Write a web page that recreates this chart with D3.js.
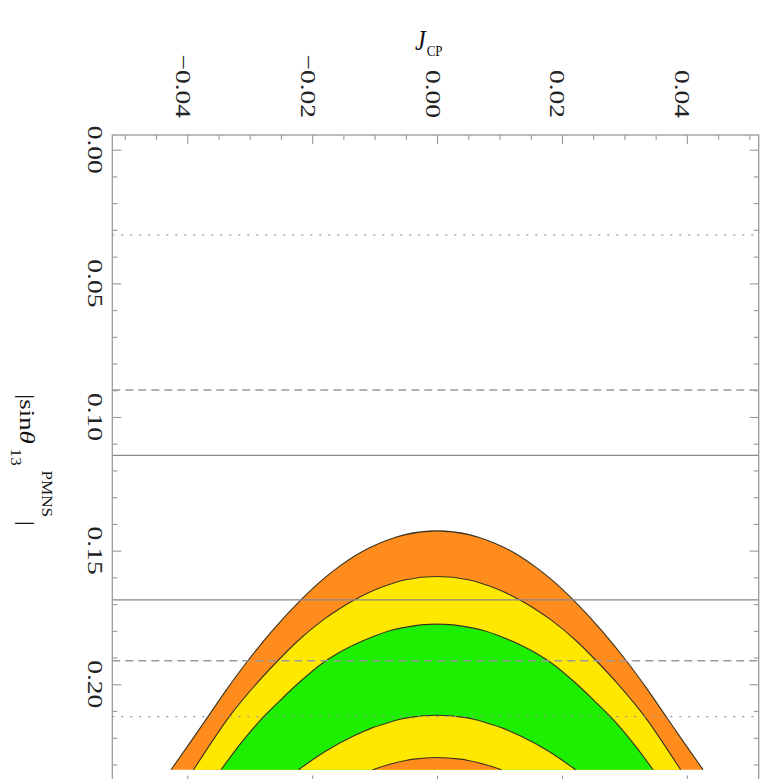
<!DOCTYPE html>
<html><head><meta charset="utf-8">
<script src="https://cdn.jsdelivr.net/npm/d3@7"></script>
<style>body{margin:0;background:#fff}svg{display:block}</style>
</head><body>
<svg id="chart" width="764" height="779"></svg>
<script>
// ---------- data ----------
const jMajorTicks = [-0.04, -0.02, 0.00, 0.02, 0.04];
const jTickLabels = ["\u22120.04", "\u22120.02", "0.00", "0.02", "0.04"];
const jMinorTicks = [-0.05,-0.045,-0.04,-0.035,-0.03,-0.025,-0.02,-0.015,-0.01,-0.005,0,0.005,0.01,0.015,0.02,0.025,0.03,0.035,0.04,0.045,0.05];
const sMajorTicks = [0.00, 0.05, 0.10, 0.15, 0.20];
const sTickLabels = ["0.00", "0.05", "0.10", "0.15", "0.20"];
const sMinorTicks = [0,0.01,0.02,0.03,0.04,0.05,0.06,0.07,0.08,0.09,0.10,0.11,0.12,0.13,0.14,0.15,0.16,0.17,0.18,0.19,0.20,0.21,0.22,0.23];

// reference values of |sin theta13|
const refLineValues = [0.0319, 0.0899, 0.1144, 0.1684, 0.1912, 0.2121];
const refLineKinds  = ["dotted", "dashed", "solid", "solid", "dashed", "dotted"];

// allowed |J_CP| (half width) versus |sin theta13| for each nested region
const bandNames = ["orangeOuter", "yellowOuter", "green", "yellowInner", "orangeInner"];
const arch1S = [0.1426, 0.1440, 0.146, 0.149, 0.152, 0.156, 0.160, 0.1684, 0.180, 0.1912, 0.202, 0.2122, 0.222, 0.232];
const arch1J = [0, 0.0051, 0.0079, 0.0109, 0.0132, 0.0157, 0.0179, 0.0218, 0.0264, 0.0303, 0.0337, 0.0367, 0.0396, 0.0426];
const arch2S = [0.1597, 0.1610, 0.162, 0.165, 0.1684, 0.172, 0.176, 0.184, 0.1912, 0.200, 0.2122, 0.222, 0.232];
const arch2J = [0, 0.0052, 0.0068, 0.0103, 0.0132, 0.0158, 0.0183, 0.0224, 0.0255, 0.0290, 0.0333, 0.0362, 0.0390];
const arch3S = [0.1775, 0.1788, 0.180, 0.1825, 0.185, 0.188, 0.1912, 0.200, 0.206, 0.2122, 0.222, 0.232];
const arch3J = [0, 0.0054, 0.0076, 0.0106, 0.0131, 0.0156, 0.0178, 0.0224, 0.0251, 0.0278, 0.0314, 0.0346];
const arch4S = [0.2116, 0.2124, 0.213, 0.2145, 0.2165, 0.2193, 0.225, 0.232];
const arch4J = [0, 0.0043, 0.0057, 0.0080, 0.0106, 0.0133, 0.0178, 0.0222];
const arch5S = [0.2274, 0.2280, 0.2285, 0.2300, 0.232];
const arch5J = [0, 0.0037, 0.0050, 0.0077, 0.0103];

// ---------- drawing ----------
const svg = d3.select("#chart");
const frame = {left: 112.3, right: 758.7, top: 135, bottom: 784.5};
const x = d3.scaleLinear().domain([-0.052, 0.0515]).range([frame.left, frame.right]);
const y = d3.scaleLinear().domain([-0.0055, 0.2375]).range([frame.top, frame.bottom]);

const archS = [arch1S, arch2S, arch3S, arch4S, arch5S];
const archJ = [arch1J, arch2J, arch3J, arch4J, arch5J];
const bandColor = {orangeOuter: "#ff8c1c", yellowOuter: "#ffe800", green: "#1cef00", yellowInner: "#ffe800", orangeInner: "#ff8c1c"};

// s is a single-valued function of J on each arch -> monotone in J
const line = d3.line().x(d => x(d[0])).y(d => y(d[1])).curve(d3.curveMonotoneX);

const gPlot = svg.append("g");
bandNames.forEach((name, k) => {
  const S = archS[k], J = archJ[k];
  const pts = [];
  for (let i = S.length - 1; i >= 1; i--) pts.push([-J[i], S[i]]);
  pts.push([0, S[0]]);
  for (let i = 1; i < S.length; i++) pts.push([J[i], S[i]]);
  gPlot.append("path").attr("d", line(pts) + "Z").attr("fill", bandColor[name]).attr("stroke", "none");
  gPlot.append("path").attr("d", line(pts)).attr("fill", "none").attr("stroke", "#3a3320").attr("stroke-width", 1.1);
});

// reference lines
const dashFor = {dotted: "2,7", dashed: "8,5", solid: null};
refLineValues.forEach((v, i) => {
  svg.append("line")
    .attr("x1", frame.left).attr("x2", frame.right)
    .attr("y1", y(v)).attr("y2", y(v))
    .attr("stroke", refLineKinds[i] === "solid" ? "#8a8a8a" : "#9a9a9a")
    .attr("stroke-width", 1.3)
    .attr("stroke-dasharray", dashFor[refLineKinds[i]]);
});

// frame
svg.append("rect").attr("x", frame.left).attr("y", frame.top)
  .attr("width", frame.right - frame.left).attr("height", frame.bottom - frame.top)
  .attr("fill", "none").attr("stroke", "#9a9a9a").attr("stroke-width", 1.3);

// ticks via d3 axes (inward)
function addAxis(axis, tx, ty) {
  const g = svg.append("g").attr("transform", `translate(${tx},${ty})`).call(axis);
  g.select(".domain").remove();
  g.selectAll(".tick line").attr("stroke", "#9a9a9a").attr("stroke-width", 1.1);
  g.selectAll(".tick text").remove();
}
const jMinorOnly = jMinorTicks.filter(v => !jMajorTicks.some(m => Math.abs(m - v) < 1e-9));
const sMinorOnly = sMinorTicks.filter(v => !sMajorTicks.some(m => Math.abs(m - v) < 1e-9));
addAxis(d3.axisTop(x).tickValues(jMajorTicks).tickSize(-9).tickFormat(""), 0, frame.top);
addAxis(d3.axisTop(x).tickValues(jMinorOnly).tickSize(-5).tickFormat(""), 0, frame.top);
addAxis(d3.axisBottom(x).tickValues(jMajorTicks).tickSize(-9).tickFormat(""), 0, frame.bottom);
addAxis(d3.axisBottom(x).tickValues(jMinorOnly).tickSize(-5).tickFormat(""), 0, frame.bottom);
addAxis(d3.axisLeft(y).tickValues(sMajorTicks).tickSize(-9).tickFormat(""), frame.left, 0);
addAxis(d3.axisLeft(y).tickValues(sMinorOnly).tickSize(-5).tickFormat(""), frame.left, 0);
addAxis(d3.axisRight(y).tickValues(sMajorTicks).tickSize(-9).tickFormat(""), frame.right, 0);
addAxis(d3.axisRight(y).tickValues(sMinorOnly).tickSize(-5).tickFormat(""), frame.right, 0);

const font = "'Liberation Serif', 'DejaVu Serif', serif";

// top tick labels (rotated)
jMajorTicks.forEach((v, i) => {
  svg.append("text")
    .attr("transform", `translate(${x(v) - 4},118) rotate(90) scale(1.25,1)`)
    .attr("text-anchor", "end").attr("dominant-baseline", "central")
    .attr("font-family", font).attr("font-size", 22).attr("fill", "#222")
    .text(jTickLabels[i]);
});
// left tick labels (rotated)
sMajorTicks.forEach((v, i) => {
  svg.append("text")
    .attr("transform", `translate(96,${y(v)}) rotate(90) scale(1.25,1)`)
    .attr("text-anchor", "middle").attr("dominant-baseline", "central")
    .attr("font-family", font).attr("font-size", 22).attr("fill", "#222")
    .text(sTickLabels[i]);
});

// J_CP title (upright)
const jt = svg.append("text").attr("transform", "translate(415,50) scale(1,1.2)")
  .attr("font-family", font).attr("fill", "#111");
jt.append("tspan").attr("font-size", 24).attr("font-style", "italic").text("J");
jt.append("tspan").attr("font-size", 13).attr("dy", 5).attr("dx", 1).text("CP");

// |sin theta13^PMNS| title (rotated)
const st = svg.append("text").attr("transform", "translate(20,460) rotate(90) scale(1.22,1)")
  .attr("text-anchor", "middle").attr("font-family", font).attr("fill", "#111");
st.append("tspan").attr("font-size", 22).text("|sin");
st.append("tspan").attr("font-size", 22).attr("font-style", "italic").text("\u03B8");
st.append("tspan").attr("font-size", 14).attr("dy", 9).attr("dx", 4).text("13");
st.append("tspan").attr("font-size", 14).attr("dy", -31).attr("dx", 4).text("PMNS");
st.append("tspan").attr("font-size", 22).attr("dy", 22).attr("dx", 3).text("|");
</script>
</body></html>
